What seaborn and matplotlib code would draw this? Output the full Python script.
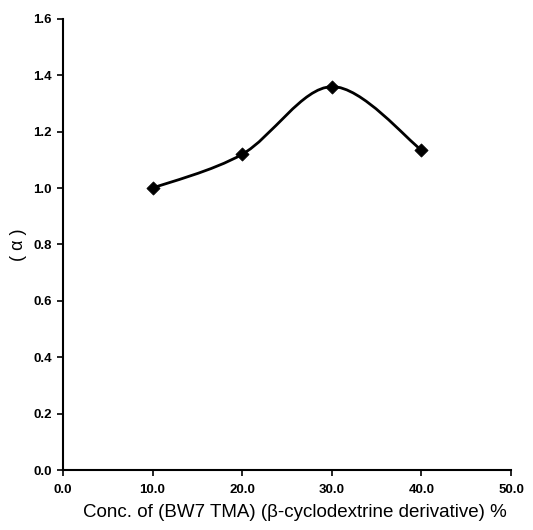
import matplotlib
matplotlib.use("Agg")
import matplotlib.pyplot as plt
import numpy as np
import pandas as pd
import seaborn as sns
from matplotlib.path import Path
from matplotlib.patches import PathPatch

# Data
conc = [10.0, 20.0, 30.0, 40.0]
alpha = [1.00, 1.12, 1.36, 1.135]
x_ticks = [0.0, 10.0, 20.0, 30.0, 40.0, 50.0]
y_ticks = [0.0, 0.2, 0.4, 0.6, 0.8, 1.0, 1.2, 1.4, 1.6]

df = pd.DataFrame({"conc": conc, "alpha": alpha})

sns.set_style("ticks")
plt.rcParams["font.family"] = ["Liberation Sans", "DejaVu Sans"]

fig = plt.figure(figsize=(5.33, 5.30), dpi=100)
ax = fig.add_axes([0.118, 0.1132, 0.841, 0.851])

# Excel-style smoothed line: cubic Bezier segments (Catmull-Rom control points)
pts = df[["conc", "alpha"]].to_numpy()
ext = np.vstack([pts[0], pts, pts[-1]])
verts = [tuple(pts[0])]
codes = [Path.MOVETO]
for i in range(len(pts) - 1):
    p_prev, p0, p1, p_next = ext[i], ext[i + 1], ext[i + 2], ext[i + 3]
    c1 = p0 + (p1 - p_prev) / 6
    c2 = p1 - (p_next - p0) / 6
    verts += [tuple(c1), tuple(c2), tuple(p1)]
    codes += [Path.CURVE4] * 3
ax.add_patch(PathPatch(Path(verts, codes), facecolor="none", edgecolor="black", lw=2))

sns.scatterplot(data=df, x="conc", y="alpha", marker="D", s=45, color="black",
                edgecolor="black", ax=ax, zorder=3)

ax.set_xlim(0, 50)
ax.set_ylim(0, 1.6)
ax.set_xticks(x_ticks)
ax.set_yticks(y_ticks)
ax.set_xticklabels([f"{v:.1f}" for v in x_ticks], fontsize=9.5, fontweight="bold", color="black")
ax.set_yticklabels([f"{v:.1f}" for v in y_ticks], fontsize=9.5, fontweight="bold", color="black")
ax.tick_params(axis="both", direction="out", length=4, width=1.2, color="black",
               left=True, bottom=True)
ax.tick_params(axis="x", pad=6)
ax.tick_params(axis="y", pad=4)

ax.set_xlabel("Conc. of (BW7 TMA) (β-cyclodextrine derivative) %", fontsize=13.5,
              color="black")
ax.xaxis.set_label_coords(0.518, -0.075)
ax.set_ylabel("( α )", fontsize=13, color="black")
ax.yaxis.set_label_coords(-0.08, 0.5)

for side in ["top", "right"]:
    ax.spines[side].set_visible(False)
for side in ["left", "bottom"]:
    ax.spines[side].set_color("black")
    ax.spines[side].set_linewidth(1.5)

fig.savefig("out.png", dpi=100)
